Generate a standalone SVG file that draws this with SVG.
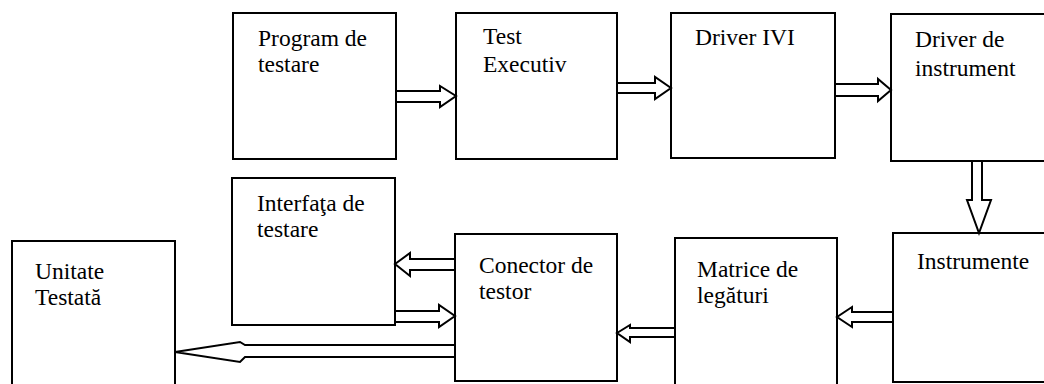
<svg xmlns="http://www.w3.org/2000/svg" width="1044" height="384" viewBox="0 0 1044 384">
  <style>
    .box { fill: #fff; stroke: #000; stroke-width: 2; }
    .arrow { fill: #fff; stroke: #000; stroke-width: 2; stroke-linejoin: miter; }
    .label { font-family: "Liberation Serif", "Times New Roman", serif; font-size: 23.5px; fill: #000; }
  </style>
  <rect width="1044" height="384" fill="#fff"/>

  <!-- top row -->
  <g id="program-testare">
    <rect class="box" x="233" y="13" width="163" height="146"/>
    <text class="label" x="258" y="46">Program de</text>
    <text class="label" x="258" y="72">testare</text>
  </g>
  <g id="test-executiv">
    <rect class="box" x="456" y="13" width="161" height="146"/>
    <text class="label" x="483" y="44">Test</text>
    <text class="label" x="483" y="72">Executiv</text>
  </g>
  <g id="driver-ivi">
    <rect class="box" x="671" y="13" width="164" height="145"/>
    <text class="label" x="695" y="45">Driver IVI</text>
  </g>
  <g id="driver-instrument">
    <rect class="box" x="891" y="14" width="170" height="147"/>
    <text class="label" x="915" y="47">Driver de</text>
    <text class="label" x="915" y="76">instrument</text>
  </g>

  <!-- bottom row -->
  <g id="interfata-testare">
    <rect class="box" x="232" y="178" width="163" height="147"/>
    <text class="label" x="257" y="211">Interfaţa de</text>
    <text class="label" x="257" y="237">testare</text>
  </g>
  <g id="unitate-testata">
    <rect class="box" x="12" y="241" width="163" height="160"/>
    <text class="label" x="35" y="279">Unitate</text>
    <text class="label" x="35" y="305">Testată</text>
  </g>
  <g id="conector-testor">
    <rect class="box" x="455" y="234" width="162" height="147"/>
    <text class="label" x="479" y="273">Conector de</text>
    <text class="label" x="479" y="299">testor</text>
  </g>
  <g id="matrice-legaturi">
    <rect class="box" x="675" y="238" width="162" height="160"/>
    <text class="label" x="697" y="277">Matrice de</text>
    <text class="label" x="697" y="303">legături</text>
  </g>
  <g id="instrumente">
    <rect class="box" x="893" y="233" width="170" height="149"/>
    <text class="label" x="917" y="269">Instrumente</text>
  </g>

  <!-- block arrows -->
  <g id="connectors">
    <polygon class="arrow" points="396,91 440,91 440,86 456,96 440,107 440,102 396,102"/>
    <polygon class="arrow" points="617,83 655,83 655,77 671,88 655,99 655,93 617,93"/>
    <polygon class="arrow" points="835,84 878,84 878,79 891,90 878,101 878,96 835,96"/>
    <polygon class="arrow" points="972,161 982,161 982,200 991,200 979,233 967,200 972,200"/>
    <polygon class="arrow" points="893,312 852,312 852,307 837,317 852,327 852,322 893,322"/>
    <polygon class="arrow" points="675,328 630,328 630,325 617,333 630,342 630,337 675,337"/>
    <polygon class="arrow" points="455,259 410,259 410,253 395,264 410,276 410,270 455,270"/>
    <polygon class="arrow" points="395,311 439,311 439,305 455,316 439,327 439,322 395,322"/>
    <polygon class="arrow" points="455,345 245,345 240,342 175,352 240,362 245,357 455,357"/>
  </g>
</svg>
